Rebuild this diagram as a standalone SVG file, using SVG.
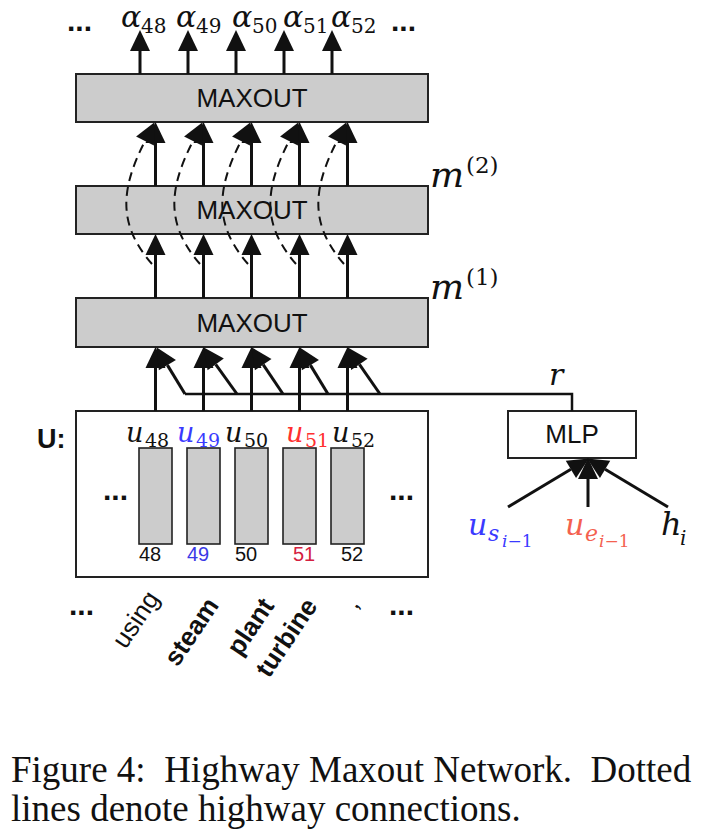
<svg xmlns="http://www.w3.org/2000/svg" width="720" height="834" viewBox="0 0 720 834">
<style>
.box{fill:#cccccc;stroke:#222;stroke-width:2}
.wbox{fill:#ffffff;stroke:#222;stroke-width:2}
.cell{fill:#cccccc;stroke:#222;stroke-width:1.6}
.sans{font-family:"Liberation Sans",Arial,sans-serif;fill:#111}
.lbl{font-size:26px;text-anchor:middle}
.dots{font-family:"Liberation Sans",Arial,sans-serif;font-weight:bold;font-size:30px;fill:#111}
.math{font-family:"DejaVu Serif",serif;font-style:italic;fill:#111}
.up{font-style:normal}
.num{font-family:"Liberation Sans",Arial,sans-serif;font-size:20px;fill:#111}
.word{font-family:"Liberation Sans",Arial,sans-serif;font-size:26px;fill:#111;text-anchor:middle}
.bold{font-weight:bold}
.arr{stroke:#111;stroke-width:3;fill:none;marker-end:url(#ah)}
.dash{stroke:#111;stroke-width:2;fill:none;stroke-dasharray:9 6;marker-end:url(#ah)}
.plain{stroke:#111;stroke-width:2.5;fill:none}
.cap{font-family:"Liberation Serif","Times New Roman",serif;font-size:37px;fill:#111}
</style>
<defs>
<marker id="ah" markerUnits="userSpaceOnUse" markerWidth="22" markerHeight="22" refX="0" refY="10" orient="auto" overflow="visible">
<path d="M0,0 L21,10 L0,20 z" fill="#111"/>
</marker>
</defs>

<g id="alpha-labels">
<text class="dots" x="67" y="31">...</text>
<text class="dots" x="391" y="31">...</text>
<text class="math" font-size="30" x="121" y="27">α<tspan class="up" font-size="20" x="141" y="33">48</tspan></text>
<text class="math" font-size="30" x="176" y="27">α<tspan class="up" font-size="20" x="196" y="33">49</tspan></text>
<text class="math" font-size="30" x="232" y="27">α<tspan class="up" font-size="20" x="252" y="33">50</tspan></text>
<text class="math" font-size="30" x="283" y="27">α<tspan class="up" font-size="20" x="303" y="33">51</tspan></text>
<text class="math" font-size="30" x="331" y="27">α<tspan class="up" font-size="20" x="351" y="33">52</tspan></text>
</g>

<g id="maxout3">
<rect class="box" x="76" y="74" width="352" height="48"/>
<text class="sans lbl" x="252" y="107">MAXOUT</text>
</g>

<g id="maxout2">
<rect class="box" x="76" y="186" width="352" height="48"/>
<text class="sans lbl" x="252" y="219">MAXOUT</text>
<text class="math" font-size="36" x="430" y="187">m<tspan class="up" font-size="23" x="466" y="173">(2)</tspan></text>
</g>

<g id="maxout1">
<rect class="box" x="76" y="298" width="352" height="49"/>
<text class="sans lbl" x="252" y="332">MAXOUT</text>
<text class="math" font-size="36" x="430" y="299">m<tspan class="up" font-size="23" x="466" y="285">(1)</tspan></text>
</g>

<g id="U">
<text class="sans bold" font-size="27" x="37" y="448">U:</text>
<rect class="wbox" x="76" y="411" width="352" height="166"/>
<text class="dots" x="103" y="500">...</text>
<text class="dots" x="389" y="500">...</text>
<rect class="cell" x="139" y="448" width="33" height="96"/>
<rect class="cell" x="187" y="448" width="33" height="96"/>
<rect class="cell" x="235" y="448" width="33" height="96"/>
<rect class="cell" x="283" y="448" width="33" height="96"/>
<rect class="cell" x="331" y="448" width="33" height="96"/>
<text class="math" font-size="27" x="126" y="442">u<tspan class="up" font-size="19" x="145" y="447">48</tspan></text>
<text class="math" font-size="27" x="177" y="442" style="fill:#3a3aff">u<tspan class="up" font-size="19" x="196" y="447">49</tspan></text>
<text class="math" font-size="27" x="225" y="442">u<tspan class="up" font-size="19" x="244" y="447">50</tspan></text>
<text class="math" font-size="27" x="286" y="442" style="fill:#ff3030">u<tspan class="up" font-size="19" x="305" y="447">51</tspan></text>
<text class="math" font-size="27" x="332" y="442">u<tspan class="up" font-size="19" x="351" y="447">52</tspan></text>
<text class="num" x="139" y="561">48</text>
<text class="num" x="187" y="561" style="fill:#3a3ae6">49</text>
<text class="num" x="235" y="561">50</text>
<text class="num" x="293" y="561" style="fill:#d42040">51</text>
<text class="num" x="341" y="561">52</text>
</g>

<g id="words">
<text class="dots" x="69" y="615">...</text>
<text class="dots" x="389" y="615">...</text>
<text class="word" transform="translate(138,621) rotate(-56)" y="6">using</text>
<text class="word bold" transform="translate(192,632) rotate(-56)" y="8">steam</text>
<text class="word bold" transform="translate(251,627) rotate(-56)" y="8">plant</text>
<text class="word bold" transform="translate(287,638) rotate(-56)" y="8">turbine</text>
<text class="word" transform="translate(353,604) rotate(-56)" y="6">,</text>
</g>

<g id="MLP">
<rect class="wbox" x="508" y="411" width="128" height="47"/>
<text class="sans" font-size="26" text-anchor="middle" x="572" y="443">MLP</text>
<text class="math" font-size="30" x="549" y="385">r</text>
<text class="math" font-size="30" x="468" y="535" style="fill:#3a3aff">u<tspan font-size="22" x="488" y="541">s</tspan><tspan font-size="17" x="502" y="547">i</tspan><tspan class="up" font-size="17">−1</tspan></text>
<text class="math" font-size="30" x="565" y="535" style="fill:#f4614f">u<tspan font-size="22" x="585" y="541">e</tspan><tspan font-size="17" x="599" y="547">i</tspan><tspan class="up" font-size="17">−1</tspan></text>
<text class="math" font-size="32" x="661" y="535">h<tspan font-size="20" x="680" y="545">i</tspan></text>
</g>

<g id="connectors">
<line class="arr" x1="140" y1="74" x2="140" y2="51"/>
<line class="arr" x1="188" y1="74" x2="188" y2="51"/>
<line class="arr" x1="236" y1="74" x2="236" y2="51"/>
<line class="arr" x1="284" y1="74" x2="284" y2="51"/>
<line class="arr" x1="332" y1="74" x2="332" y2="51"/>
<line class="arr" x1="155.5" y1="186" x2="155.5" y2="143"/>
<line class="arr" x1="203.5" y1="186" x2="203.5" y2="143"/>
<line class="arr" x1="251.5" y1="186" x2="251.5" y2="143"/>
<line class="arr" x1="299.5" y1="186" x2="299.5" y2="143"/>
<line class="arr" x1="347.5" y1="186" x2="347.5" y2="143"/>
<line class="arr" x1="155.5" y1="298" x2="155.5" y2="255"/>
<line class="arr" x1="203.5" y1="298" x2="203.5" y2="255"/>
<line class="arr" x1="251.5" y1="298" x2="251.5" y2="255"/>
<line class="arr" x1="299.5" y1="298" x2="299.5" y2="255"/>
<line class="arr" x1="347.5" y1="298" x2="347.5" y2="255"/>
<path class="dash" d="M152,264 C118,225 120,190 145,141"/>
<path class="dash" d="M200,264 C166,225 168,190 193,141"/>
<path class="dash" d="M248,264 C214,225 216,190 241,141"/>
<path class="dash" d="M296,264 C262,225 264,190 289,141"/>
<path class="dash" d="M344,264 C310,225 312,190 337,141"/>
<line class="arr" x1="155.5" y1="411" x2="155.5" y2="368"/>
<line class="arr" x1="203.5" y1="411" x2="203.5" y2="368"/>
<line class="arr" x1="251.5" y1="411" x2="251.5" y2="368"/>
<line class="arr" x1="299.5" y1="411" x2="299.5" y2="368"/>
<line class="arr" x1="347.5" y1="411" x2="347.5" y2="368"/>
<path class="plain" d="M185,394 H572 V411"/>
<line class="arr" stroke-width="2.5" x1="185" y1="394" x2="167.4" y2="365.1"/>
<line class="arr" stroke-width="2.5" x1="237" y1="394" x2="215.7" y2="364.3"/>
<line class="arr" stroke-width="2.5" x1="283" y1="394" x2="263.2" y2="364.6"/>
<line class="arr" stroke-width="2.5" x1="328" y1="394" x2="310.4" y2="365.1"/>
<line class="arr" stroke-width="2.5" x1="380" y1="394" x2="359.4" y2="364.4"/>
<line class="arr" stroke-width="4" x1="508" y1="507" x2="570.9" y2="469.3"/>
<line class="arr" stroke-width="4" x1="588" y1="507" x2="588" y2="479"/>
<line class="arr" stroke-width="4" x1="668" y1="507" x2="605.1" y2="469.3"/>
</g>

<g id="caption">
<text class="cap" x="11" y="782" xml:space="preserve">Figure 4:  Highway Maxout Network.  Dotted</text>
<text class="cap" x="11" y="821">lines denote highway connections.</text>
</g>
</svg>
